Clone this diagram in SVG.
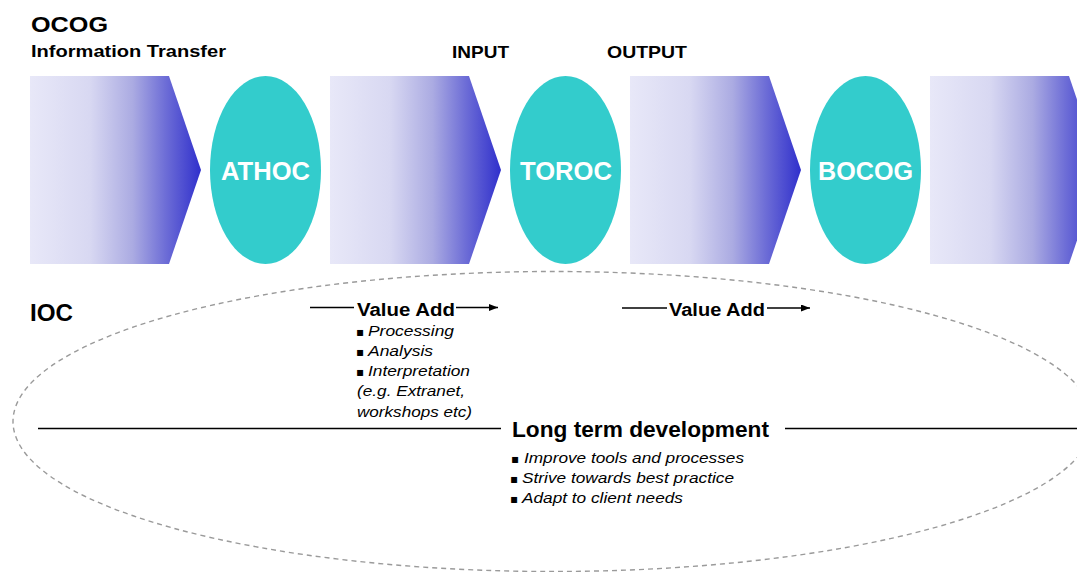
<svg xmlns="http://www.w3.org/2000/svg" width="1077" height="572" viewBox="0 0 1077 572">
<style>
.b{font-family:"Liberation Sans",Arial,sans-serif;font-weight:bold;fill:#000}
.w{font-family:"Liberation Sans",Arial,sans-serif;font-weight:bold;fill:#fff;font-size:25px;text-anchor:middle}
.i{font-family:"Liberation Sans","DejaVu Sans",Arial,sans-serif;font-style:italic;font-size:15px;fill:#000}
.bu{font-family:"DejaVu Sans",sans-serif;font-style:normal;font-size:12px}
.oval{fill:#33CCCC}
.ln{stroke:#000;stroke-width:1.3;fill:none}
</style>
<defs>
<linearGradient id="g" x1="0" y1="0" x2="1" y2="0">
<stop offset="0" stop-color="#E8E8F8"/>
<stop offset="0.35" stop-color="#D8D8F2"/>
<stop offset="0.6" stop-color="#ABABE2"/>
<stop offset="0.8" stop-color="#6B6BD6"/>
<stop offset="1" stop-color="#3030CC"/>
</linearGradient>
<path id="chev" d="M0,0 H139 L171,94 L139,188 H0 Z"/>
<marker id="ah" markerWidth="9" markerHeight="7" refX="9" refY="3.5" orient="auto" markerUnits="userSpaceOnUse">
<path d="M0,0 L9,3.5 L0,7 Z" fill="#000"/>
</marker>
</defs>
<rect width="1077" height="572" fill="#fff"/>

<g id="titles">
<text class="b" x="31" y="32" font-size="22" textLength="77" lengthAdjust="spacingAndGlyphs">OCOG</text>
<text class="b" x="31" y="57" font-size="17" textLength="195" lengthAdjust="spacingAndGlyphs">Information Transfer</text>
<text class="b" x="452" y="58" font-size="17" textLength="57" lengthAdjust="spacingAndGlyphs">INPUT</text>
<text class="b" x="607" y="58" font-size="17" textLength="80" lengthAdjust="spacingAndGlyphs">OUTPUT</text>
<text class="b" x="30" y="321" font-size="23" textLength="43" lengthAdjust="spacingAndGlyphs">IOC</text>
</g>

<g id="chevron1"><use href="#chev" x="30" y="76" fill="url(#g)"/></g>
<g id="chevron2"><use href="#chev" x="330" y="76" fill="url(#g)"/></g>
<g id="chevron3"><use href="#chev" x="630" y="76" fill="url(#g)"/></g>
<g id="chevron4"><use href="#chev" x="930" y="76" fill="url(#g)"/></g>

<g id="athoc"><ellipse class="oval" cx="265.5" cy="170" rx="55.5" ry="94"/><text class="w" x="265.5" y="180" textLength="89" lengthAdjust="spacingAndGlyphs">ATHOC</text></g>
<g id="toroc"><ellipse class="oval" cx="565.5" cy="170" rx="55.5" ry="94"/><text class="w" x="566" y="180" textLength="92" lengthAdjust="spacingAndGlyphs">TOROC</text></g>
<g id="bocog"><ellipse class="oval" cx="865.5" cy="170" rx="55.5" ry="94"/><text class="w" x="865.5" y="180" textLength="95" lengthAdjust="spacingAndGlyphs">BOCOG</text></g>

<g id="ioc-boundary">
<ellipse cx="553" cy="421.5" rx="540" ry="150" fill="none" stroke="#9a9a9a" stroke-width="1.4" stroke-dasharray="5,4"/>
</g>

<g id="connectors">
<line class="ln" x1="310" y1="307.5" x2="354" y2="307.5"/>
<line class="ln" x1="456" y1="307.5" x2="498" y2="307.5" marker-end="url(#ah)"/>
<line class="ln" x1="622" y1="308" x2="667" y2="308"/>
<line class="ln" x1="767" y1="308" x2="810" y2="308" marker-end="url(#ah)"/>
<line class="ln" x1="38" y1="428.5" x2="501" y2="428.5"/>
<line class="ln" x1="785" y1="428.5" x2="1077" y2="428.5"/>
</g>

<g id="value-add-1">
<text class="b" x="357" y="316" font-size="18" textLength="98" lengthAdjust="spacingAndGlyphs">Value Add</text>
<text class="i" x="356" y="336"><tspan class="bu">▪</tspan> <tspan x="368" textLength="86" lengthAdjust="spacingAndGlyphs">Processing</tspan></text>
<text class="i" x="356" y="356"><tspan class="bu">▪</tspan> <tspan x="368" textLength="65" lengthAdjust="spacingAndGlyphs">Analysis</tspan></text>
<text class="i" x="356" y="376"><tspan class="bu">▪</tspan> <tspan x="368" textLength="102" lengthAdjust="spacingAndGlyphs">Interpretation</tspan></text>
<text class="i" x="357" y="396" textLength="108" lengthAdjust="spacingAndGlyphs">(e.g. Extranet,</text>
<text class="i" x="357" y="417" textLength="115" lengthAdjust="spacingAndGlyphs">workshops etc)</text>
</g>

<g id="value-add-2">
<text class="b" x="669" y="316" font-size="18" textLength="96" lengthAdjust="spacingAndGlyphs">Value Add</text>
</g>

<g id="long-term">
<text class="b" x="512" y="437" font-size="22" textLength="257" lengthAdjust="spacingAndGlyphs">Long term development</text>
<text class="i" x="511" y="463"><tspan class="bu">▪</tspan> <tspan x="524" textLength="220" lengthAdjust="spacingAndGlyphs">Improve tools and processes</tspan></text>
<text class="i" x="510" y="483"><tspan class="bu">▪</tspan> <tspan x="522" textLength="212" lengthAdjust="spacingAndGlyphs">Strive towards best practice</tspan></text>
<text class="i" x="510" y="503"><tspan class="bu">▪</tspan> <tspan x="522" textLength="161" lengthAdjust="spacingAndGlyphs">Adapt to client needs</tspan></text>
</g>
</svg>
